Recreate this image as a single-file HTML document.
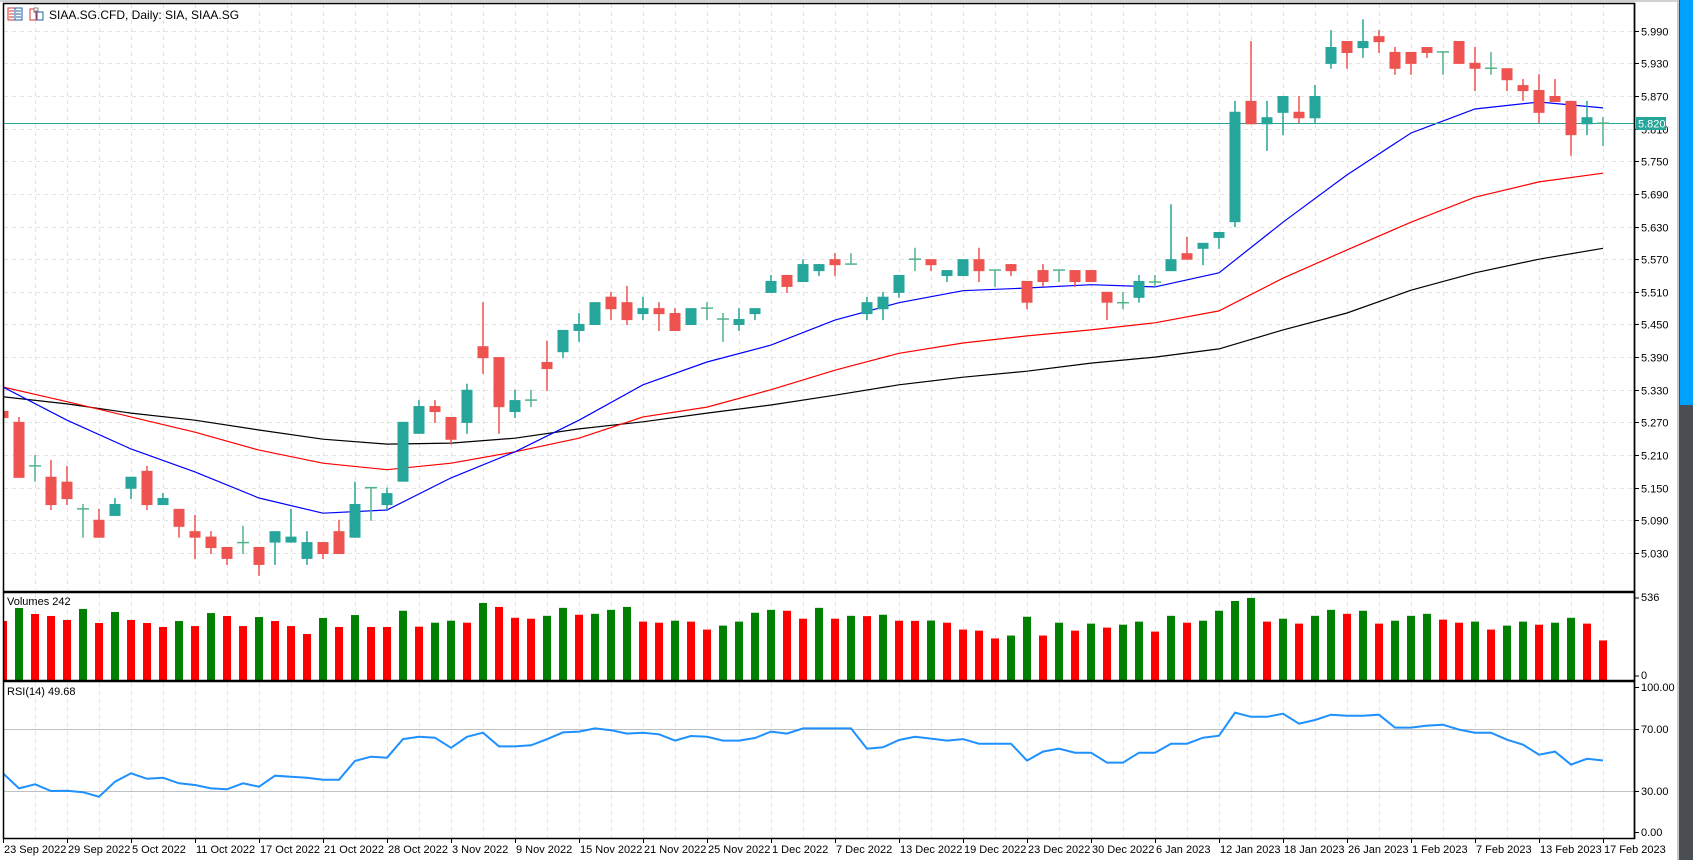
<!DOCTYPE html>
<html><head><meta charset="utf-8"><style>
html,body{margin:0;padding:0;background:#fff;width:1693px;height:860px;overflow:hidden}
svg{display:block;font-family:"Liberation Sans",sans-serif}
</style></head><body>
<svg id="chart" width="1693" height="860" viewBox="0 0 1693 860" xmlns="http://www.w3.org/2000/svg">
<rect x="0" y="0" width="1693" height="860" fill="#fff"/>
<rect x="1677" y="0" width="16" height="860" fill="#4b4d55"/>
<rect x="1677" y="0" width="2" height="860" fill="#c8c8c8"/>
<rect x="1680" y="0" width="13" height="405" fill="#00a2ff"/>
<line x1="0" y1="1" x2="1677" y2="1" stroke="#a0a0a0"/>
<g id="grid"></g>
<g id="main" clip-path="url(#mainclip)"></g>
<g id="vol" clip-path="url(#volclip)"></g>
<g id="rsi" clip-path="url(#rsiclip)"></g>
<g id="frames"></g>
<g id="axes"></g>
<defs>
<clipPath id="mainclip"><rect x="4" y="4" width="1630" height="586"/></clipPath>
<clipPath id="volclip"><rect x="4" y="594" width="1630" height="86"/></clipPath>
<clipPath id="rsiclip"><rect x="4" y="683" width="1630" height="155"/></clipPath>
</defs>
<g>
<rect x="8" y="8" width="7" height="12" fill="none" stroke="#d33" stroke-width="1"/>
<rect x="15" y="8" width="7" height="12" fill="none" stroke="#1f5fa8" stroke-width="1"/>
<line x1="9" y1="11" x2="14" y2="11" stroke="#d33"/><line x1="9" y1="14" x2="14" y2="14" stroke="#d33"/><line x1="9" y1="17" x2="14" y2="17" stroke="#d33"/>
<line x1="16" y1="11" x2="21" y2="11" stroke="#1f5fa8"/><line x1="16" y1="14" x2="21" y2="14" stroke="#1f5fa8"/><line x1="16" y1="17" x2="21" y2="17" stroke="#1f5fa8"/>
<path d="M30 9 h4 v3 h2 v8 h-6 z" fill="none" stroke="#d33"/>
<path d="M37 12 h6 v8 h-6 z" fill="none" stroke="#1f5fa8"/>
<rect x="34" y="8" width="4" height="3" fill="none" stroke="#888"/>
<text x="49" y="19" font-size="12" fill="#000">SIAA.SG.CFD, Daily:  SIA, SIAA.SG</text>
</g>
<text x="7" y="605" font-size="11" fill="#000">Volumes 242</text>
<text x="7" y="695" font-size="11" fill="#000">RSI(14) 49.68</text>
</svg>
<script>
const dateLabels=["23 Sep 2022","29 Sep 2022","5 Oct 2022","11 Oct 2022","17 Oct 2022","21 Oct 2022","28 Oct 2022","3 Nov 2022","9 Nov 2022","15 Nov 2022","21 Nov 2022","25 Nov 2022","1 Dec 2022","7 Dec 2022","13 Dec 2022","19 Dec 2022","23 Dec 2022","30 Dec 2022","6 Jan 2023","12 Jan 2023","18 Jan 2023","26 Jan 2023","1 Feb 2023","7 Feb 2023","13 Feb 2023","17 Feb 2023"];
const priceTicks=[5.030,5.090,5.150,5.210,5.270,5.330,5.390,5.450,5.510,5.570,5.630,5.690,5.750,5.810,5.870,5.930,5.990];
const opens=[5.291,5.271,5.190,5.170,5.161,5.111,5.091,5.098,5.148,5.181,5.118,5.111,5.070,5.060,5.041,5.049,5.041,5.049,5.049,5.019,5.050,5.070,5.058,5.150,5.118,5.161,5.249,5.300,5.280,5.269,5.410,5.390,5.289,5.311,5.381,5.399,5.438,5.449,5.501,5.491,5.469,5.480,5.471,5.449,5.480,5.460,5.449,5.469,5.508,5.541,5.528,5.548,5.570,5.561,5.469,5.478,5.508,5.570,5.570,5.539,5.539,5.570,5.550,5.561,5.530,5.550,5.550,5.550,5.550,5.510,5.490,5.499,5.528,5.548,5.581,5.589,5.609,5.638,5.861,5.818,5.839,5.841,5.829,5.929,5.971,5.958,5.980,5.951,5.951,5.960,5.951,5.971,5.931,5.921,5.921,5.890,5.881,5.870,5.861,5.818,5.820];
const highs=[5.291,5.280,5.210,5.201,5.190,5.120,5.111,5.131,5.170,5.190,5.140,5.111,5.100,5.070,5.041,5.080,5.041,5.070,5.111,5.070,5.050,5.091,5.161,5.150,5.150,5.271,5.311,5.311,5.280,5.341,5.491,5.390,5.330,5.330,5.420,5.440,5.471,5.491,5.510,5.521,5.501,5.491,5.480,5.480,5.491,5.471,5.480,5.480,5.541,5.541,5.570,5.561,5.581,5.581,5.501,5.510,5.541,5.591,5.570,5.550,5.570,5.591,5.550,5.561,5.530,5.561,5.550,5.550,5.550,5.510,5.510,5.541,5.541,5.671,5.611,5.600,5.620,5.861,5.971,5.861,5.870,5.870,5.890,5.991,5.971,6.011,5.991,5.960,5.951,5.960,5.951,5.971,5.960,5.951,5.921,5.901,5.910,5.901,5.861,5.861,5.831];
const lows=[5.278,5.168,5.161,5.109,5.118,5.058,5.058,5.098,5.129,5.109,5.118,5.058,5.019,5.028,5.008,5.028,4.988,5.008,5.049,5.008,5.019,5.028,5.058,5.089,5.109,5.161,5.249,5.269,5.229,5.249,5.359,5.249,5.278,5.298,5.328,5.388,5.418,5.449,5.458,5.449,5.458,5.438,5.438,5.449,5.458,5.418,5.438,5.458,5.508,5.508,5.528,5.539,5.539,5.561,5.458,5.458,5.499,5.548,5.548,5.528,5.539,5.528,5.519,5.539,5.478,5.519,5.528,5.519,5.528,5.458,5.478,5.490,5.519,5.548,5.569,5.559,5.589,5.629,5.818,5.769,5.798,5.820,5.820,5.920,5.920,5.940,5.949,5.909,5.909,5.940,5.909,5.929,5.879,5.909,5.879,5.861,5.820,5.859,5.760,5.798,5.778];
const closes=[5.278,5.168,5.190,5.118,5.129,5.111,5.058,5.120,5.170,5.118,5.131,5.078,5.058,5.039,5.019,5.049,5.008,5.070,5.060,5.050,5.028,5.028,5.120,5.150,5.140,5.271,5.300,5.289,5.238,5.330,5.388,5.298,5.311,5.311,5.368,5.440,5.451,5.491,5.478,5.458,5.480,5.469,5.438,5.480,5.480,5.460,5.460,5.480,5.530,5.519,5.561,5.561,5.559,5.561,5.491,5.501,5.541,5.570,5.559,5.550,5.570,5.548,5.550,5.548,5.490,5.528,5.550,5.528,5.528,5.490,5.490,5.530,5.528,5.570,5.569,5.600,5.620,5.841,5.818,5.831,5.870,5.829,5.870,5.960,5.949,5.971,5.969,5.920,5.929,5.949,5.951,5.929,5.920,5.921,5.899,5.879,5.839,5.859,5.798,5.831,5.820];
const volumes=[379,464,425,412,386,458,366,438,386,366,340,379,346,431,412,346,405,379,346,294,399,340,418,340,340,446,342,368,381,368,497,471,400,394,413,465,420,426,452,471,375,368,381,375,323,349,375,433,452,446,394,465,394,413,411,420,381,380,382,368,323,316,265,284,407,284,368,316,362,336,355,375,310,413,368,381,446,510,530,375,394,362,413,452,426,446,362,381,413,426,388,368,375,323,349,375,355,368,400,362,252];
const rsiValues=[41.4,31.7,34.3,30,30.2,29.2,26.3,36,41.4,37.9,38.6,35,33.9,31.7,31.1,35,32.8,39.9,39.2,38.6,37.3,37.3,49.4,52.1,51.5,63.5,65,64.4,57.9,65,67.6,58.8,58.8,59.5,63.4,67.8,68.3,70.4,69.2,67,67.6,66.6,62.5,65.5,65,62.5,62.5,64.2,68.3,67,70.4,70.4,70.4,70.4,57.3,58.2,62.9,65,63.8,62.5,63.5,60.5,60.5,60.5,49.6,55.4,57.3,54.7,54.7,48.3,48.3,54.7,54.7,60.5,60.5,64.4,65.7,80.5,77.9,77.9,79.9,73.4,75.8,79.2,78.6,78.6,79.2,70.9,70.9,72.2,72.8,69.6,67.6,67.6,63.1,59.9,53.4,55.4,47,50.8,49.7];
const maStep=4;
const maFast=[5.335,5.274,5.221,5.179,5.131,5.103,5.109,5.168,5.216,5.274,5.339,5.381,5.412,5.458,5.490,5.512,5.517,5.523,5.519,5.545,5.638,5.725,5.802,5.846,5.859,5.848];
const maMid=[5.335,5.308,5.280,5.252,5.219,5.195,5.183,5.195,5.216,5.241,5.280,5.298,5.330,5.366,5.397,5.416,5.429,5.440,5.453,5.475,5.535,5.587,5.638,5.684,5.712,5.728];
const maSlow=[5.317,5.304,5.287,5.274,5.256,5.239,5.230,5.232,5.241,5.258,5.271,5.287,5.302,5.320,5.339,5.353,5.364,5.379,5.390,5.405,5.440,5.471,5.513,5.545,5.570,5.590];
const currentPrice=5.820;
const volMax=536;

const NS="http://www.w3.org/2000/svg";
const xB=i=>3+16*i;
const yP=p=>30.7+(5.99-p)*544;
const yV=v=>679-v*82/volMax;
const yR=r=>729+(70-r)*1.55;
function mk(tag,attrs,parent){const e=document.createElementNS(NS,tag);for(const k in attrs)e.setAttribute(k,attrs[k]);parent.appendChild(e);return e;}
const G=id=>document.getElementById(id);
const grid=G('grid'),main=G('main'),vol=G('vol'),rsi=G('rsi'),frames=G('frames'),axes=G('axes');

// vertical grid
for(let x=35;x<1634;x+=32){
  [[4,590],[594,680],[683,838]].forEach(r=>{
    const l=mk('line',{x1:x+0.5,y1:r[0],x2:x+0.5,y2:r[1],stroke:'#e4e4e4','stroke-dasharray':'4,4'},grid);
    
    
  });
}
// horizontal grid + price labels
priceTicks.forEach(p=>{
  const y=Math.round(yP(p))+0.5;
  const l=mk('line',{x1:4,y1:y,x2:1634,y2:y,stroke:'#e4e4e4','stroke-dasharray':'4,4'},grid);
  
  
  mk('line',{x1:1634,y1:y,x2:1639,y2:y,stroke:'#000'},axes);
  const t=mk('text',{x:1641,y:y+4,'font-size':11,fill:'#000'},axes);
  t.textContent=p.toFixed(3);
  
  
});
// RSI levels
[70,30].forEach(r=>{
  const l=mk('line',{x1:4,y1:Math.round(yR(r))+0.5,x2:1634,y2:Math.round(yR(r))+0.5,stroke:'#c0c0c0'},grid);
  
  
});

// MAs
function maLine(arr,color,name){
  let d='';arr.forEach((v,k)=>{d+=(k?'L':'M')+xB(k*maStep)+' '+yP(v).toFixed(1);});
  const p=mk('path',{d:d,fill:'none',stroke:color,'stroke-width':1.2},main);
  
  
}
maLine(maSlow,'#000000','ma-slow-line');
maLine(maMid,'#ff0000','ma-mid-line');
maLine(maFast,'#0000ff','ma-fast-line');

// current price line
const cpy=Math.round(yP(currentPrice))+0.5;
const cpl=mk('line',{x1:4,y1:cpy,x2:1634,y2:cpy,stroke:'#26a69a'},main);



// candles
for(let i=0;i<opens.length;i++){
  const o=opens[i],h=highs[i],l=lows[i],c=closes[i],x=xB(i);
  const up=c>o,dn=c<o;
  const col=up?'#26a69a':(dn?'#ef5350':'#4fb48a');
  const g=mk('g',{},main);
  
  
  mk('line',{x1:x,y1:yP(h),x2:x,y2:yP(l),stroke:col,'stroke-width':1.5},g);
  if(up||dn){
    const t=yP(Math.max(o,c)),b=yP(Math.min(o,c));
    mk('rect',{x:x-5.5,y:t,width:11,height:Math.max(1.5,b-t),fill:col},g);
  }else{
    mk('line',{x1:x-6,y1:yP(o),x2:x+6,y2:yP(o),stroke:col,'stroke-width':1.5},g);
  }
}

// volumes
for(let i=0;i<volumes.length;i++){
  const v=volumes[i];
  const col=(i>0&&v>volumes[i-1])?'#008000':'#ff0000';
  const r=mk('rect',{x:xB(i)-4,y:yV(v),width:8,height:679-yV(v)+1,fill:col},vol);
  
  
}

// RSI
let rd='';rsiValues.forEach((r,i)=>{rd+=(i?'L':'M')+xB(i)+' '+yR(r).toFixed(1);});
const rp=mk('path',{d:rd,fill:'none',stroke:'#1e90ff','stroke-width':2},rsi);



// frames
[[3,3,1631,588],[3,592,1631,88],[3,681,1631,157]].forEach((r,k)=>{
  const f=mk('rect',{x:r[0]+0.5,y:r[1]+0.5,width:r[2],height:r[3],fill:'none',stroke:'#000','stroke-width':1.5},frames);
  
  
});
mk('line',{x1:1634.5,y1:3,x2:1634.5,y2:839,stroke:'#000','stroke-width':1.5},frames);

// volume axis labels
[[volMax,601],[0,679]].forEach(a=>{
  mk('line',{x1:1634,y1:a[1]-3,x2:1639,y2:a[1]-3,stroke:'#000'},axes);
  const t=mk('text',{x:1641,y:a[1],'font-size':11,fill:'#000'},axes);
  t.textContent=String(a[0]);
  
  
});
// rsi axis labels
[[100,687],[70,729],[30,791],[0,832]].forEach(a=>{
  mk('line',{x1:1634,y1:a[1]+0.5,x2:1639,y2:a[1]+0.5,stroke:'#000'},axes);
  const t=mk('text',{x:1641,y:a[1]+4,'font-size':11,fill:'#000'},axes);
  t.textContent=a[0].toFixed(2);
  
  
});
// current price tag
const tag=mk('g',{},axes);


mk('rect',{x:1636,y:cpy-6.5,width:30,height:13,fill:'#26a69a'},tag);
const tt=mk('text',{x:1638,y:cpy+4,'font-size':11,fill:'#fff'},tag);
tt.textContent=currentPrice.toFixed(3);

// date axis
dateLabels.forEach((d,k)=>{
  const x=3+64*k;
  mk('line',{x1:x+0.5,y1:838,x2:x+0.5,y2:843,stroke:'#000'},axes);
  const t=mk('text',{x:x+1,y:853,'font-size':11,fill:'#000'},axes);
  t.textContent=d;
  
  
});
</script>
</body></html>
